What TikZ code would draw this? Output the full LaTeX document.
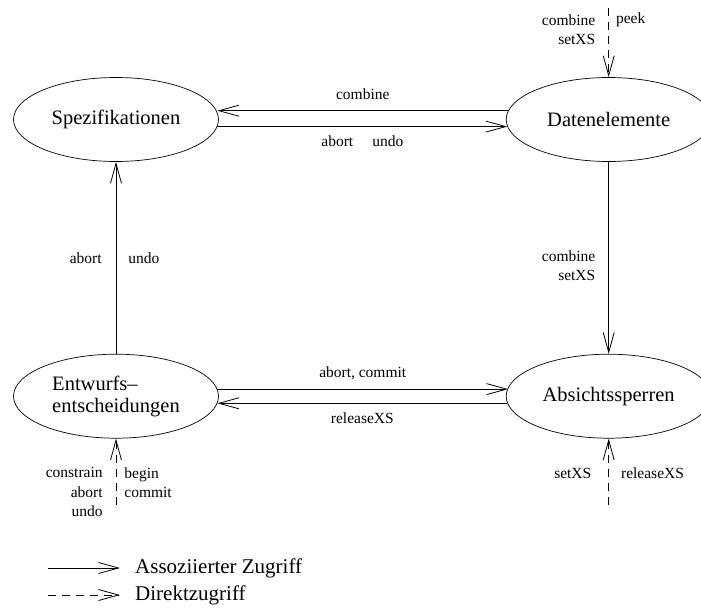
\documentclass[tikz,border=0pt]{standalone}
\usepackage{fontspec}
\setmainfont{Liberation Serif}
\usetikzlibrary{arrows.meta,positioning,shapes.geometric}

\begin{document}
\begin{tikzpicture}[
  x=1pt, y=1pt,
  node distance=192pt and 287pt,
  state/.style={draw, ellipse, line width=0.7pt, minimum width=205pt, minimum height=84pt,
    inner sep=0pt, font=\fontsize{20.5}{22}\selectfont},
  lbl/.style={font=\fontsize{15.5}{19.5}\selectfont, inner sep=0pt},
  hlbl/.style={lbl, text height=11pt, text depth=3.5pt},
  legtext/.style={font=\fontsize{21}{22}\selectfont, inner sep=0pt},
  assoc/.style={-{Straight Barb[length=20pt, width=11pt]}, line width=0.8pt},
  direct/.style={assoc, dash pattern=on 8pt off 6pt}
]
  \useasboundingbox (-116,119.5) rectangle (585,-488.5);

  \node[state] (spez) {Spezifikationen};
  \node[state, right=of spez] (daten) {Datenelemente};
  \node[state, below=of spez, align=left] (entw) {Entwurfs–\\entscheidungen};
  \node[state, below=of daten] (absi) {Absichtssperren};

  % free ends of the direct accesses
  \coordinate[above=69pt of daten.north] (datenin);
  \coordinate[below=66pt of entw.south] (entwin);
  \coordinate[below=66pt of absi.south] (absiin);

  % upper pair
  \draw[assoc] (daten.175.8) -- node[hlbl, above=7.5pt] {combine} (spez.4.2 |- daten.175.8);
  \draw[assoc] (spez.-4.2) -- node[hlbl, below=9pt] {abort\hspace{19pt}undo} (daten.184.2 |- spez.-4.2);

  % lower pair
  \draw[assoc] (entw.4.2) -- node[hlbl, above=7.5pt] {abort, commit} (absi.175.8 |- entw.4.2);
  \draw[assoc] (absi.184.2) -- node[hlbl, below=9pt] {releaseXS} (entw.-4.2 |- absi.184.2);

  % verticals
  \draw[assoc] (entw.north) -- node[lbl, left=14pt] {abort} node[lbl, right=12pt] {undo} (spez.south);
  \draw[assoc] (daten.south) -- node[lbl, pos=.54, left=13pt, align=right] {combine\\setXS} (absi.north);

  % direct accesses
  \draw[direct] (datenin) -- node[lbl, pos=.31, left=13pt, align=right] {combine\\setXS}
    node[lbl, pos=.17, right=7pt] {peek} (daten.north);
  \draw[direct] (entwin) -- node[lbl, pos=.19, left=13pt, align=right] {constrain\\abort\\undo}
    node[lbl, pos=.33, right=8pt, align=left] {begin\\commit} (entw.south);
  \draw[direct] (absiin) -- node[lbl, pos=.47, left=17pt] {setXS}
    node[lbl, pos=.47, right=12pt] {releaseXS} (absi.south);

  % legend
  \coordinate (asso0) at (-68,-448.5);
  \coordinate (asso1) at (4,-448.5);
  \coordinate (dir0) at (-68,-475.5);
  \coordinate (dir1) at (4,-475.5);
  \draw[assoc] (asso0) -- (asso1);
  \draw[direct] (dir0) -- (dir1);
  \node[legtext, right=15pt of asso1] (assotext) {Assoziierter Zugriff};
  \node[legtext, right=15pt of dir1] (dirtext) {Direktzugriff};
\end{tikzpicture}
\end{document}
